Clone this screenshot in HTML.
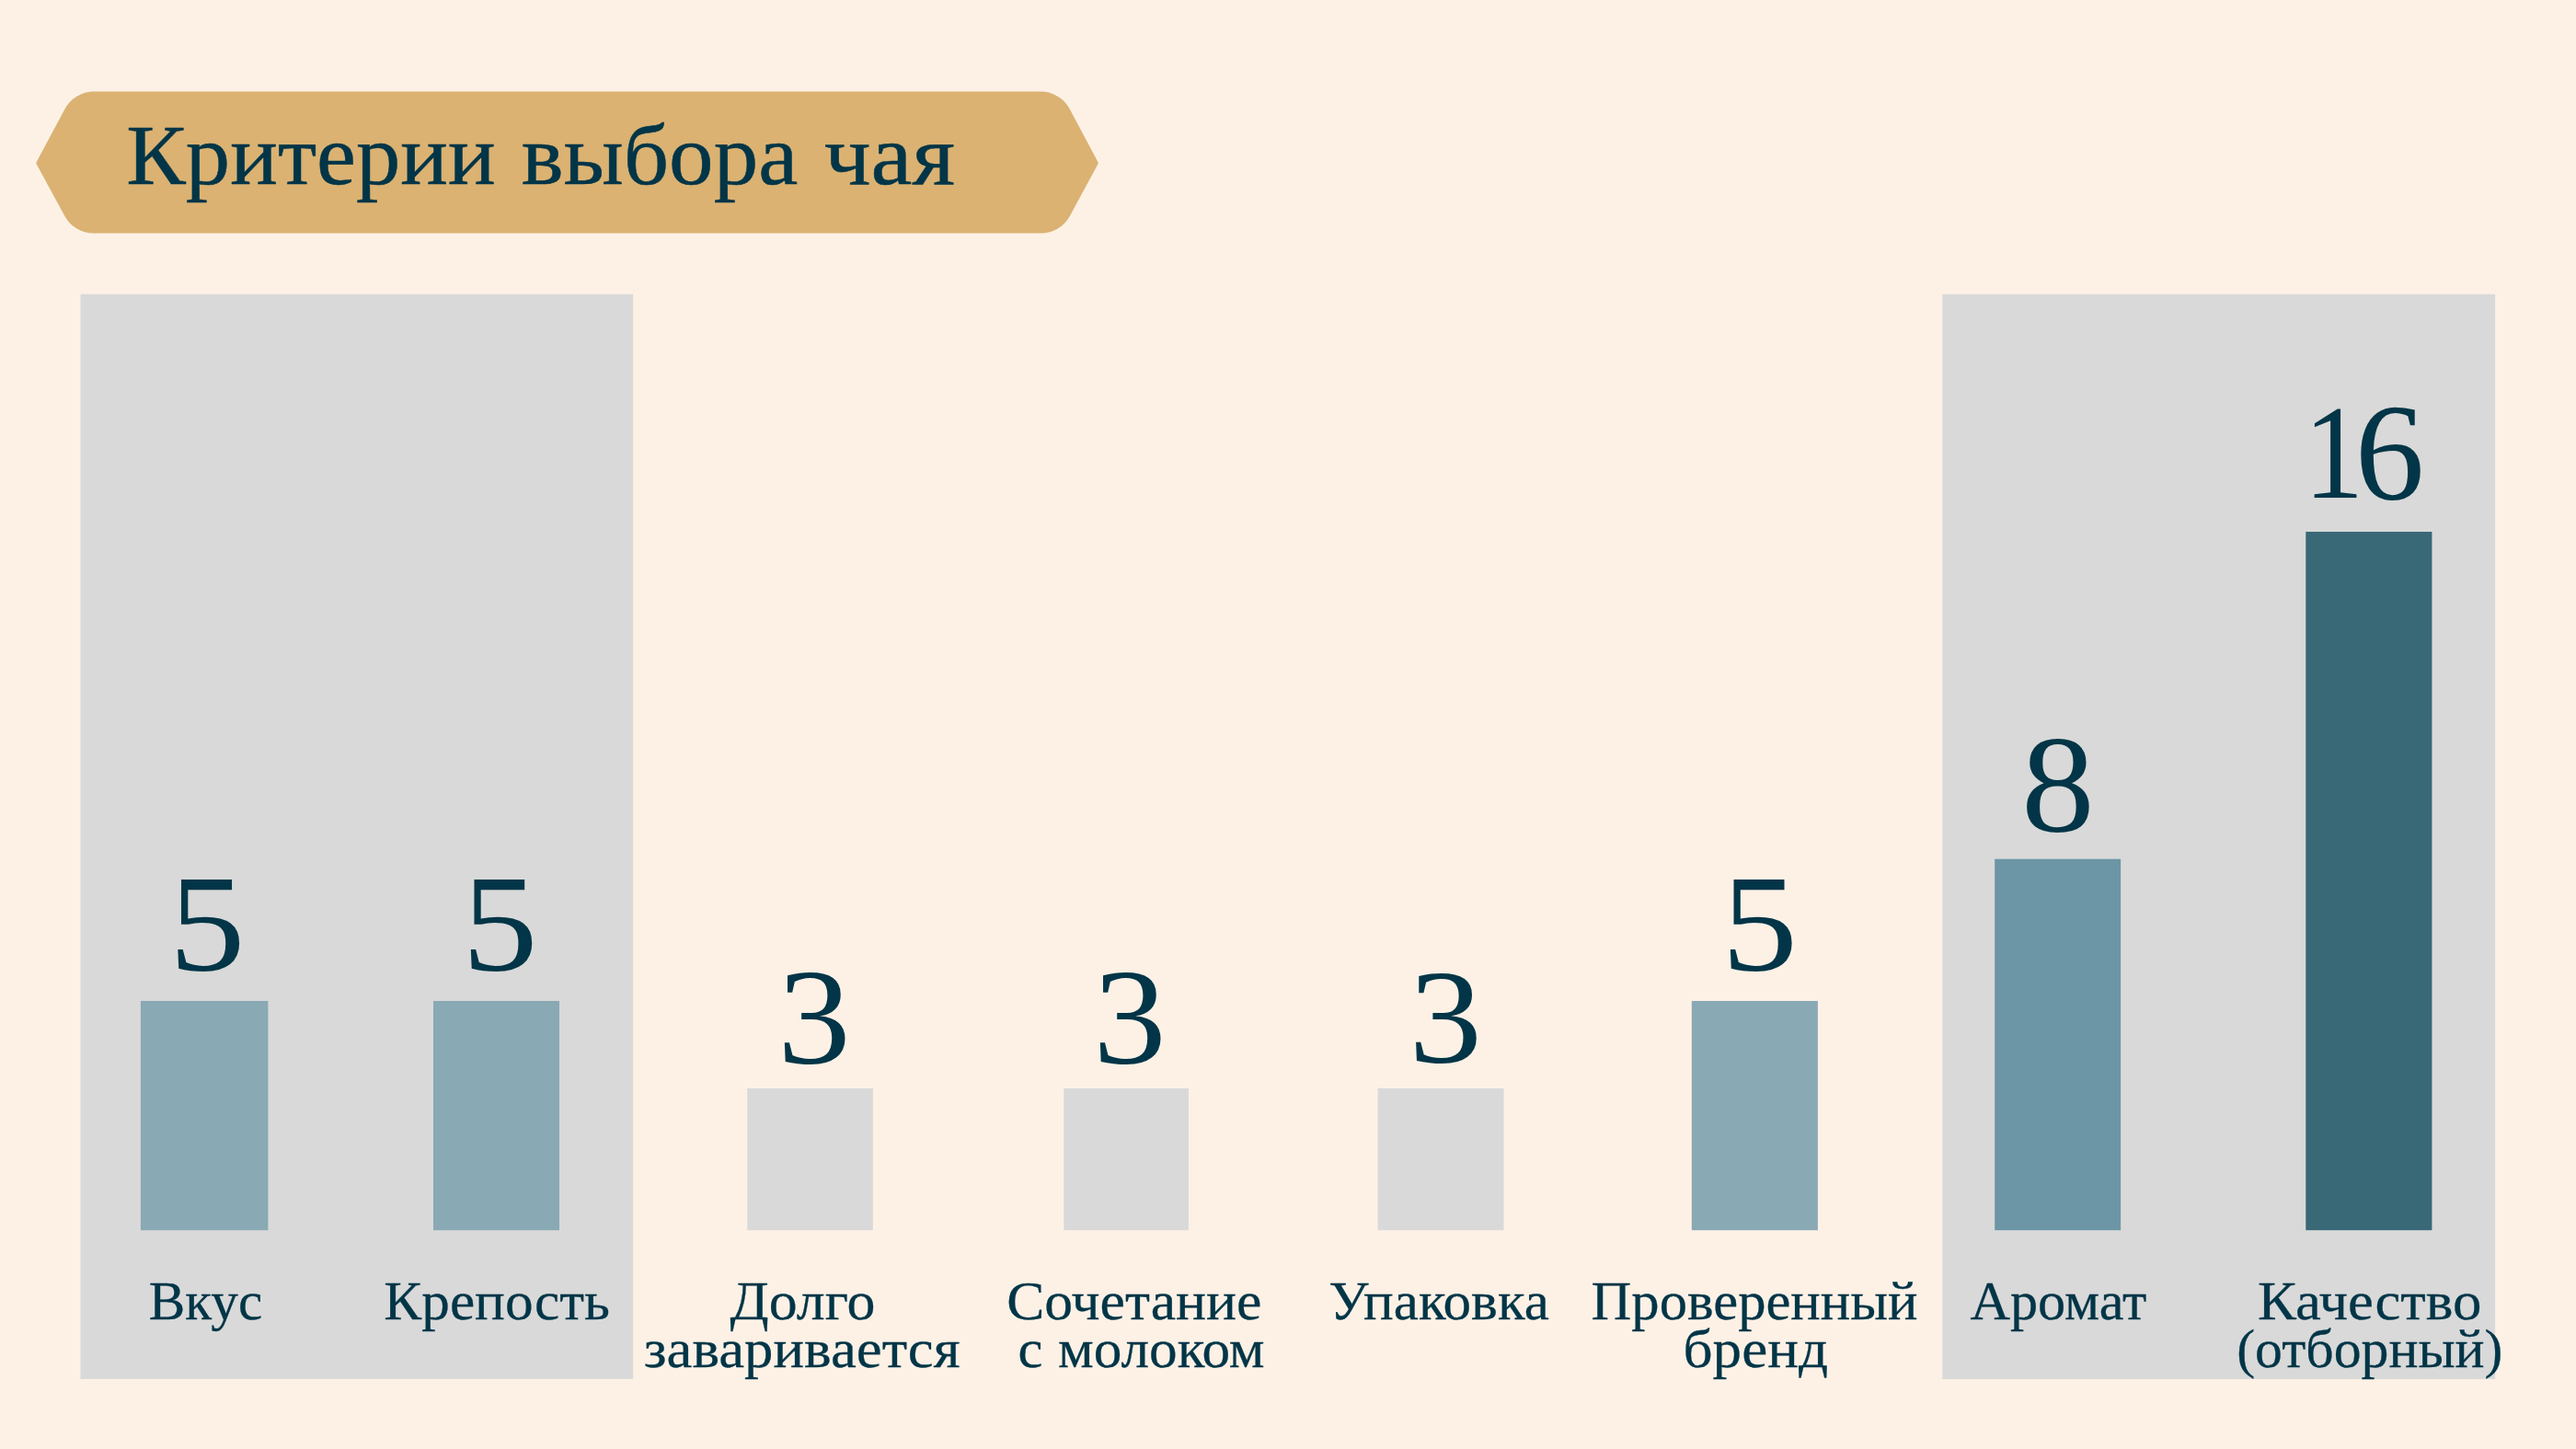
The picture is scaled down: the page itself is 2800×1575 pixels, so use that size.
<!DOCTYPE html>
<html lang="ru">
<head>
<meta charset="utf-8">
<title>Критерии выбора чая</title>
<style>
html,body{margin:0;padding:0;background:#FDF1E6;}
body{width:2800px;height:1575px;overflow:hidden;}
svg{display:block;}
text{font-family:"Liberation Serif", serif;fill:#023547;}
.t{stroke:#023547;stroke-width:0.5px;stroke-linejoin:round;}
.l{stroke:#023547;stroke-width:0.3px;stroke-linejoin:round;}
</style>
</head>
<body>
<svg width="2800" height="1575" viewBox="0 0 2800 1575">
<rect x="0" y="0" width="2800" height="1575" fill="#FDF1E6"/>
<path fill="#DBB272" d="M39.74 178.38 A2.50 2.50 0 0 1 39.73 176.01 L70.33 118.65 A36.00 36.00 0 0 1 102.10 99.60 L1131.08 99.60 A36.00 36.00 0 0 1 1162.86 118.69 L1193.37 176.02 A2.50 2.50 0 0 1 1193.36 178.38 L1162.91 234.72 A36.00 36.00 0 0 1 1131.24 253.60 L101.94 253.60 A36.00 36.00 0 0 1 70.29 234.75 Z"/>
<rect x="87.5" y="319.8" width="600.7" height="1179.1" fill="#D9D9D9"/>
<rect x="2111.3" y="319.8" width="600.8" height="1179.2" fill="#D9D9D9"/>
<rect x="152.9" y="1088.0" width="138.5" height="249.2" fill="#89A9B5"/>
<rect x="471.0" y="1088.0" width="137.0" height="249.2" fill="#89A9B5"/>
<rect x="812.2" y="1183.0" width="136.7" height="154.2" fill="#D9D9D9"/>
<rect x="1156.3" y="1183.0" width="135.6" height="154.2" fill="#D9D9D9"/>
<rect x="1497.6" y="1183.0" width="136.9" height="154.2" fill="#D9D9D9"/>
<rect x="1838.8" y="1088.0" width="137.1" height="249.2" fill="#89A9B5"/>
<rect x="2168.2" y="933.7" width="136.9" height="403.5" fill="#6C96A5"/>
<rect x="2506.3" y="578.0" width="137.1" height="759.2" fill="#396877"/>
<text class="t" font-size="93.30"><tspan x="137.37" y="199.90" textLength="401.45" lengthAdjust="spacingAndGlyphs">Критерии</tspan> <tspan x="566.79" y="199.90" textLength="300.42" lengthAdjust="spacingAndGlyphs">выбора</tspan> <tspan x="895.78" y="199.90" textLength="142.25" lengthAdjust="spacingAndGlyphs">чая</tspan></text>
<text class="l" x="161.75" y="1433.60" font-size="59.60" textLength="123.49" lengthAdjust="spacingAndGlyphs">Вкус</text>
<text class="l" x="417.38" y="1433.60" font-size="59.60" textLength="245.65" lengthAdjust="spacingAndGlyphs">Крепость</text>
<text class="l" font-size="59.60"><tspan x="793.60" y="1433.60" textLength="157.84" lengthAdjust="spacingAndGlyphs">Долго</tspan> <tspan x="699.79" y="1485.60" textLength="343.82" lengthAdjust="spacingAndGlyphs">заваривается</tspan></text>
<text class="l" font-size="59.60"><tspan x="1094.17" y="1433.60" textLength="277.25" lengthAdjust="spacingAndGlyphs">Сочетание</tspan> <tspan x="1106.52" y="1485.60" textLength="26.94" lengthAdjust="spacingAndGlyphs">с</tspan> <tspan x="1149.99" y="1485.60" textLength="224.62" lengthAdjust="spacingAndGlyphs">молоком</tspan></text>
<text class="l" x="1444.18" y="1433.60" font-size="59.60" textLength="239.63" lengthAdjust="spacingAndGlyphs">Упаковка</text>
<text class="l" font-size="59.60"><tspan x="1729.59" y="1433.60" textLength="354.82" lengthAdjust="spacingAndGlyphs">Проверенный</tspan> <tspan x="1829.52" y="1485.60" textLength="157.52" lengthAdjust="spacingAndGlyphs">бренд</tspan></text>
<text class="l" x="2141.40" y="1433.60" font-size="59.60" textLength="192.01" lengthAdjust="spacingAndGlyphs">Аромат</text>
<text class="l" font-size="59.60"><tspan x="2453.97" y="1433.60" textLength="243.47" lengthAdjust="spacingAndGlyphs">Качество</tspan> <tspan x="2431.15" y="1485.60" textLength="289.28" lengthAdjust="spacingAndGlyphs">(отборный)</tspan></text>
<text x="183.83" y="1055.49" font-size="150.02" textLength="82.87" lengthAdjust="spacingAndGlyphs">5</text>
<text x="502.27" y="1055.49" font-size="150.02" textLength="82.39" lengthAdjust="spacingAndGlyphs">5</text>
<text x="845.31" y="1155.52" font-size="148.58" textLength="79.47" lengthAdjust="spacingAndGlyphs">3</text>
<text x="1188.31" y="1155.52" font-size="148.58" textLength="79.47" lengthAdjust="spacingAndGlyphs">3</text>
<text x="1531.55" y="1154.53" font-size="147.11" textLength="79.45" lengthAdjust="spacingAndGlyphs">3</text>
<text x="1871.29" y="1055.00" font-size="150.77" textLength="82.85" lengthAdjust="spacingAndGlyphs">5</text>
<text x="2197.09" y="904.30" font-size="150.00" textLength="79.74" lengthAdjust="spacingAndGlyphs">8</text>
<text font-size="145.25"><tspan x="2504.27" y="540.50" textLength="64.99" lengthAdjust="spacingAndGlyphs">1</tspan><tspan font-size="150.74" x="2559.78" y="543.00" textLength="75.52" lengthAdjust="spacingAndGlyphs">6</tspan></text>
</svg>
</body>
</html>
